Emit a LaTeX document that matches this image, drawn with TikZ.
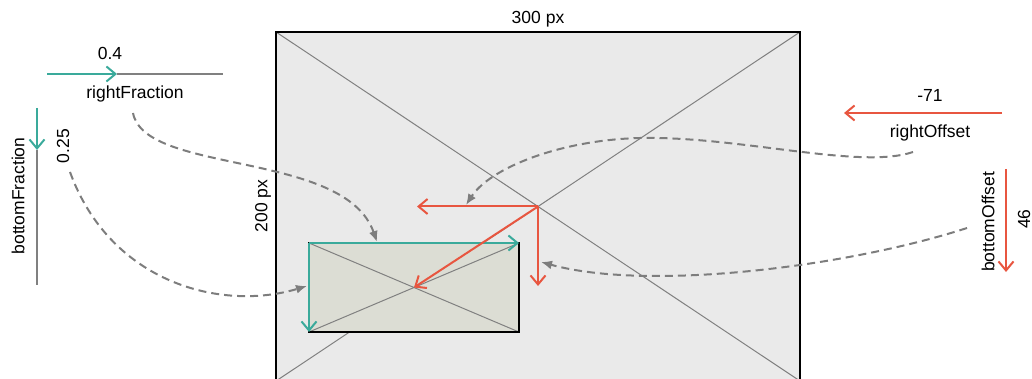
\documentclass[tikz,border=0pt]{standalone}
\usepackage{fontspec}
\setmainfont{Liberation Sans}
\usetikzlibrary{arrows.meta}
\definecolor{teal1}{RGB}{58,170,155}
\definecolor{red1}{RGB}{232,86,64}
\definecolor{bigfill}{RGB}{234,234,234}
\definecolor{smallfill}{RGB}{220,221,212}
\definecolor{diag}{RGB}{128,128,128}
\definecolor{dash1}{RGB}{125,125,125}
\tikzset{
  lbl/.style={font=\fontsize{17.5}{20}\selectfont, inner sep=0pt},
  vec/.style={line width=2pt, -{Straight Barb[length=9pt,width=15pt,line width=2pt]}},
  link/.style={line width=2pt, dash pattern=on 8pt off 5pt, draw=dash1, -{Latex[length=11pt,width=9pt]}},
  diagline/.style={draw=diag, line width=1pt},
}
\begin{document}
\begin{tikzpicture}[x=1pt,y=-1pt]
\useasboundingbox (0,0) rectangle (1032,379);
\clip (0,0) rectangle (1032,379);
% big frame
\coordinate (B1) at (276,32);
\coordinate (B2) at (800,32);
\coordinate (B3) at (800,381);
\coordinate (B4) at (276,381);
\fill[bigfill] (B1) rectangle (B3);
\draw[diagline] (B1) -- (B3);
\draw[diagline] (B2) -- (B4);
\draw[line width=2pt] (B1) rectangle (B3);
% small frame
\coordinate (S1) at (309,243);
\coordinate (S2) at (519,243);
\coordinate (S3) at (519,332);
\coordinate (S4) at (309,332);
\coordinate (SC) at (414,287.5);
\coordinate (BC) at (538,206.5);
\fill[smallfill] (S1) rectangle (S3);
\draw[diagline] (S1) -- (S3);
\draw[diagline] (S2) -- (S4);
\draw[line width=2pt] (S1) rectangle (S3);
\draw[vec, draw=teal1] (S1) -- (S2);
\draw[vec, draw=teal1] (S1) -- (S4);
% red offsets
\coordinate (RL) at (417,206.5);
\coordinate (RD) at (538,286);
\draw[vec, draw=red1] (BC) -- (RL);
\draw[vec, draw=red1] (BC) -- (RD);
\draw[vec, draw=red1] (BC) -- (SC);
% labels
\node[lbl] (w) at (538,19) {300 px};
\node[lbl, rotate=90] (h) at (263,206) {200 px};
% left legend
\coordinate (LH0) at (47,74);
\coordinate (LH1) at (117,74);
\coordinate (LH2) at (223,74);
\draw[diag, line width=2pt] (LH1) -- (LH2);
\draw[vec, draw=teal1] (LH0) -- (LH1);
\node[lbl] (rf) at (110,53) {0.4};
\node[lbl] (rfl) at (135,94) {rightFraction};
\coordinate (LV0) at (37,108);
\coordinate (LV1) at (37,150);
\coordinate (LV2) at (37,285);
\draw[diag, line width=2pt] (LV1) -- (LV2);
\draw[vec, draw=teal1] (LV0) -- (LV1);
\node[lbl, rotate=90] (bfl) at (18,196) {bottomFraction};
\node[lbl, rotate=90] (bf) at (63,146) {0.25};
% right legend
\coordinate (RH0) at (1002,113);
\coordinate (RH1) at (844,113);
\draw[vec, draw=red1] (RH0) -- (RH1);
\node[lbl] (ro) at (930,95) {-71};
\node[lbl] (rol) at (930,133) {rightOffset};
\coordinate (RV0) at (1006,169);
\coordinate (RV1) at (1006,272);
\draw[vec, draw=red1] (RV0) -- (RV1);
\node[lbl, rotate=90] (bol) at (988,222) {bottomOffset};
\node[lbl, rotate=90] (bo) at (1024,219) {46};
% dashed links
\coordinate (T1) at (377,242);
\coordinate (T2) at (307,286);
\coordinate (T3) at (466,205);
\coordinate (T4) at (541,262);
\draw[link] (133,113) .. controls (145,175) and (345,150) .. (T1);
\draw[link] (70,172) .. controls (110,282) and (220,312) .. (T2);
\draw[link] (913,152) .. controls (860,170) and (740,136) .. (640,138) .. controls (560,140) and (490,168) .. (T3);
\draw[link] (967,228) .. controls (850,266) and (650,292) .. (T4);
\end{tikzpicture}
\end{document}
